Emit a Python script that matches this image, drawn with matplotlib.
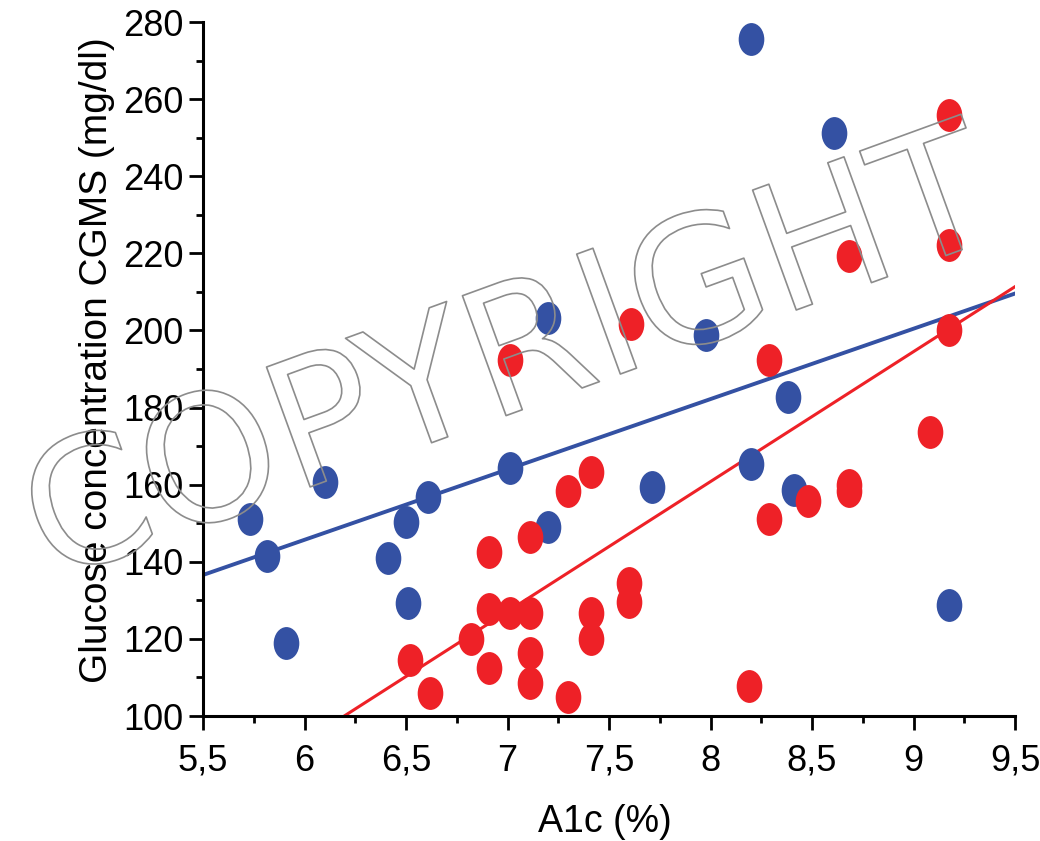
import numpy as np
import matplotlib
matplotlib.use("Agg")
from matplotlib import pyplot as plt
from matplotlib.path import Path
from matplotlib.transforms import Affine2D
import matplotlib.patheffects as pe

# data
blue_a1c = [5.73, 5.815, 5.91, 6.10, 6.41, 6.50, 6.51, 6.61, 7.01, 7.20, 7.20,
            7.71, 7.98, 8.20, 8.20, 8.38, 8.41, 8.61, 9.175]
blue_glu = [151.2, 141.6, 118.9, 160.6, 141.0, 150.3, 129.3, 156.8, 164.3, 149.0, 203.2,
            159.4, 198.8, 275.6, 165.3, 182.7, 158.6, 251.2, 128.8]
red_a1c = [6.52, 6.62, 6.82, 6.91, 6.91, 6.91, 7.01, 7.01, 7.11, 7.11, 7.11, 7.11,
           7.30, 7.30, 7.41, 7.41, 7.41, 7.61, 7.60, 7.60, 8.19, 8.29, 8.29, 8.48,
           8.68, 8.68, 8.68, 9.08, 9.175, 9.175, 9.175]
red_glu = [114.5, 106.0, 120.0, 127.7, 112.4, 142.5, 126.7, 192.3, 126.7, 116.3, 108.6, 146.4,
           158.4, 104.9, 163.3, 126.7, 120.0, 201.7, 134.5, 129.6, 107.8, 192.3, 151.1, 155.8,
           158.3, 160.0, 219.3, 173.7, 255.9, 222.1, 200.0]
# regression lines (slope, intercept) as drawn in the figure
blue_fit = (18.25, 36.2)
red_fit = (33.7, -108.8)

xticks = [5.5, 6, 6.5, 7, 7.5, 8, 8.5, 9, 9.5]
xticklabels = ["5,5", "6", "6,5", "7", "7,5", "8", "8,5", "9", "9,5"]
yticks = [100, 120, 140, 160, 180, 200, 220, 240, 260, 280]

BLUE = "#3451a3"
RED = "#ee2127"

plt.rcParams['font.family'] = ['Liberation Sans', 'DejaVu Sans']

fig = plt.figure(figsize=(10.4, 8.41), dpi=100)
ax = fig.add_axes([203/1040, 1-716/841, (1015-203)/1040, (716-22)/841])

# ellipse marker, taller than wide
circ = Path.unit_circle()
ell = Affine2D().scale(0.78, 1.0).transform_path(circ)

xs = np.array([5.5, 9.5])
ax.plot(xs, blue_fit[0]*xs + blue_fit[1], color=BLUE, lw=2.8, zorder=2)
xr = np.array([(100 - red_fit[1])/red_fit[0], 9.5])
ax.plot(xr, red_fit[0]*xr + red_fit[1], color=RED, lw=2.2, zorder=2)
ax.scatter(blue_a1c, blue_glu, s=560, marker=ell, color=BLUE, linewidths=0, zorder=3)
ax.scatter(red_a1c, red_glu, s=560, marker=ell, color=RED, linewidths=0, zorder=4)

ax.set_xlim(5.5, 9.5)
ax.set_ylim(100, 280)
ax.set_xticks(xticks, xticklabels)
ax.set_yticks(yticks)
ax.set_xticks(np.arange(5.5, 9.51, 0.25), minor=True)
ax.set_yticks(np.arange(100, 281, 10), minor=True)
for s in ["top", "right"]:
    ax.spines[s].set_visible(False)
for s in ["left", "bottom"]:
    ax.spines[s].set_linewidth(2.2)
ax.tick_params(which="major", length=10, width=2, labelsize=26, direction="out")
ax.tick_params(which="minor", length=5, width=2, direction="out")
ax.tick_params(axis="x", which="major", pad=10)
ax.tick_params(axis="y", which="major", pad=4)

fig.text(605/1040, 1-822/841, "A1c (%)", ha="center", va="center", fontsize=27)
fig.text(97/1040, 1-360/841, "Glucose concentration CGMS (mg/dl)", ha="center", va="center",
         rotation=90, fontsize=28)

# watermark, outlined letters only
fig.text(527/1040, 1-408/841, "COPYRIGHT", family="DejaVu Sans", fontsize=126,
         color="none", ha="center", va="baseline", rotation=20, rotation_mode="anchor",
         path_effects=[pe.Stroke(linewidth=1.2, foreground="#8c8c8c")], zorder=10)

fig.savefig("out.png", dpi=100)
